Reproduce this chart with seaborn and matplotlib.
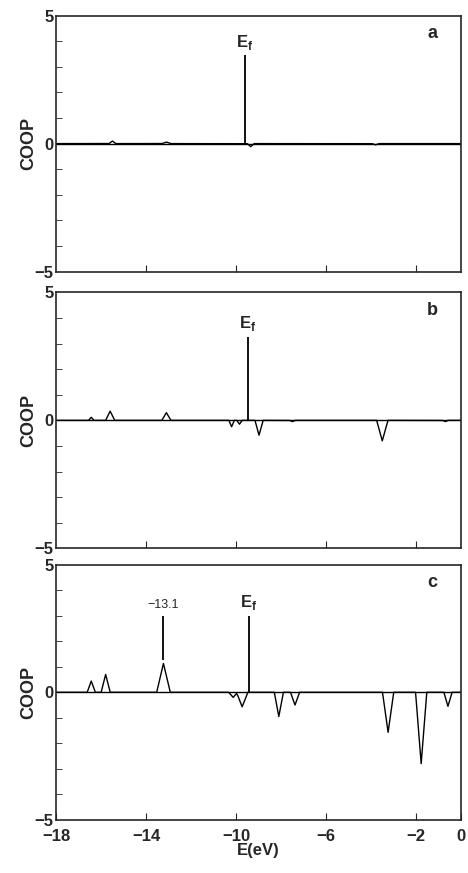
import numpy as np
import pandas as pd
import matplotlib
matplotlib.use("Agg")
import matplotlib.pyplot as plt
import seaborn as sns

# ── data ──
panels = ["a", "b", "c"]
fermi_pos = [-9.62, -9.47, -9.42]
fermi_top = [3.45, 3.25, 3.0]

peak_pos = {
    "a": [-15.5, -13.1, -9.35, -3.8],
    "b": [-16.44, -15.6, -13.1, -10.2, -9.85, -8.98, -7.5, -3.5, -0.7],
    "c": [-16.44, -15.8, -13.23, -10.13, -9.73, -8.1, -7.38, -3.24, -1.77, -0.58],
}
peak_height = {
    "a": [0.1, 0.06, -0.12, -0.05],
    "b": [0.12, 0.36, 0.3, -0.25, -0.15, -0.58, -0.05, -0.8, -0.05],
    "c": [0.44, 0.7, 1.13, -0.2, -0.57, -0.95, -0.5, -1.57, -2.8, -0.55],
}
peak_width = {
    "a": [0.15, 0.2, 0.15, 0.15],
    "b": [0.12, 0.2, 0.2, 0.12, 0.12, 0.18, 0.12, 0.25, 0.12],
    "c": [0.18, 0.2, 0.3, 0.2, 0.25, 0.2, 0.2, 0.25, 0.25, 0.18],
}
label_131 = -13.1

sns.set_style("ticks")
plt.rcParams["font.family"] = ["Liberation Sans", "DejaVu Sans"]

fig = plt.figure(figsize=(4.68, 8.73), dpi=100)
boxes = [(0.12, 0.689, 0.865, 0.293),
         (0.12, 0.372, 0.865, 0.293),
         (0.12, 0.061, 0.865, 0.292)]

e = np.linspace(-18, 0, 3601)
for i, (p, box) in enumerate(zip(panels, boxes)):
    ax = fig.add_axes(box)
    coop = np.zeros_like(e)
    for c, h, w in zip(peak_pos[p], peak_height[p], peak_width[p]):
        coop += h * np.clip(1 - np.abs(e - c) / w, 0, None)
    df = pd.DataFrame({"E": e, "COOP": coop})
    sns.lineplot(data=df, x="E", y="COOP", ax=ax, color="black", lw=1.0)
    ax.axhline(0, color="black", lw=1.0)
    ax.vlines(fermi_pos[i], 0, fermi_top[i], color="black", lw=1.3)
    ax.text(fermi_pos[i], fermi_top[i] + 0.15, "E$_\\mathregular{f}$", ha="center", va="bottom",
            fontsize=12, fontweight="bold")
    ax.text(0.93, 0.93, p, transform=ax.transAxes, ha="center", va="center",
            fontsize=13, fontweight="bold")
    if p == "c":
        j = peak_pos[p].index(-13.23)
        ax.vlines(peak_pos[p][j], peak_height[p][j] + 0.15, fermi_top[i], color="black", lw=1.3)
        ax.text(peak_pos[p][j], fermi_top[i] + 0.2, f"{label_131}".replace("-", "\u2212"),
                ha="center", va="bottom", fontsize=9)
    ax.set_xlim(-18, 0)
    ax.set_ylim(-5, 5)
    ax.set_yticks([-5, 0, 5])
    ax.set_yticklabels(["\u22125", "0", "5"], fontsize=12, fontweight="bold")
    ax.set_yticks(np.arange(-4, 5, 1), minor=True)
    ax.tick_params(axis="y", which="minor", direction="in", length=4, left=True)
    ax.tick_params(axis="y", which="major", direction="in", length=0, pad=2)
    ax.set_xticks([-14, -10, -6, -2])
    ax.tick_params(axis="x", direction="in", length=5, pad=7)
    ax.set_ylabel("COOP", fontsize=13, fontweight="bold", labelpad=-2)
    ax.set_xlabel("")
    for s in ax.spines.values():
        s.set_linewidth(1.2)
    if p == "c":
        ax.set_xticks([-18, -14, -10, -6, -2, 0])
        ax.set_xticklabels(["\u221218", "\u221214", "\u221210", "\u22126", "\u22122", "0"],
                           fontsize=12, fontweight="bold")
        ax.set_xlabel("E(eV)", fontsize=12, fontweight="bold", labelpad=-1)
    else:
        ax.set_xticklabels([])

fig.savefig("out.png", dpi=100)
